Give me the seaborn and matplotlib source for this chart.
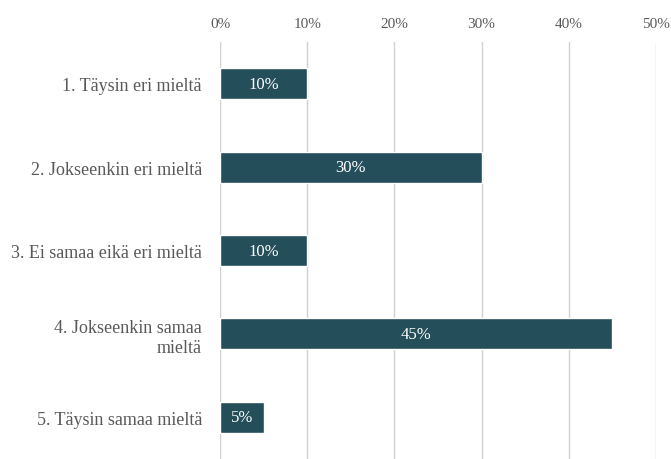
import matplotlib
matplotlib.use("Agg")
import matplotlib.pyplot as plt
import seaborn as sns
import pandas as pd
from matplotlib.ticker import FuncFormatter

categories = ["1. Täysin eri mieltä", "2. Jokseenkin eri mieltä",
              "3. Ei samaa eikä eri mieltä", "4. Jokseenkin samaa\nmieltä",
              "5. Täysin samaa mieltä"]
values = [10, 30, 10, 45, 5]
xticks = [0, 10, 20, 30, 40, 50]

sns.set_theme(style="white")
plt.rcParams['font.family'] = ['Liberation Serif', 'DejaVu Serif']

df = pd.DataFrame({"cat": categories, "val": values})

fig = plt.figure(figsize=(6.71, 4.6), dpi=100)
ax = fig.add_axes([0.3279, 0.0, 0.6497, 0.9065])
sns.barplot(data=df, y="cat", x="val", orient="h", color="#234e5a",
            saturation=1, width=0.37, ax=ax)
ax.set_xlim(0, 50)
ax.set_ylim(4.5, -0.5)
ax.set_xticks(xticks)
ax.xaxis.set_major_formatter(FuncFormatter(lambda v, p: f"{int(v)}%"))
ax.xaxis.tick_top()
ax.tick_params(axis='x', length=0, pad=9, labelsize=11, labelcolor="#595959")
ax.tick_params(axis='y', length=0, pad=13, labelsize=13, labelcolor="#595959")
ax.set_xlabel("")
ax.set_ylabel("")
for s in ax.spines.values():
    s.set_visible(False)
ax.grid(axis='x', color="#d0d0d0", linewidth=1)
ax.set_axisbelow(True)
ax.axvline(0, color="#d9e1f2", linewidth=1.5, zorder=0.5)
for lbl in ax.get_yticklabels():
    lbl.set_ha("right")
    lbl.set_multialignment("right")
for c in ax.containers:
    ax.bar_label(c, labels=[f"{v}%" for v in values], label_type="center",
                 color="white", fontsize=12)

fig.savefig("out.png", dpi=100)
